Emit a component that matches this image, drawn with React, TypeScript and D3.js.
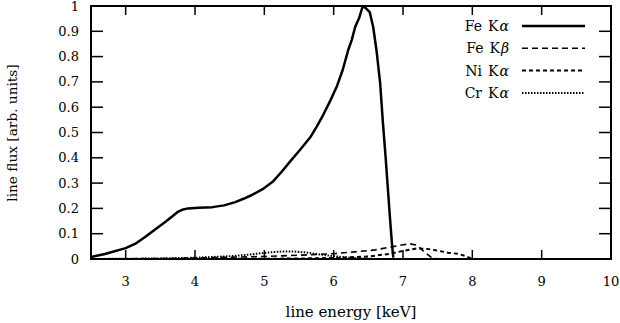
import React, { useRef, useEffect } from 'react';
import * as d3 from 'd3';

// energies (keV) and fluxes
const feKaE = [2.5, 2.7, 3.0, 3.15, 3.28, 3.42, 3.57, 3.67, 3.75, 3.83, 3.9, 4.05, 4.25, 4.42, 4.58, 4.7, 4.82, 4.97, 5.12, 5.25, 5.37, 5.51, 5.66, 5.76, 5.85, 5.95, 6.05, 6.13, 6.21, 6.26, 6.31, 6.37, 6.42, 6.47, 6.52, 6.57, 6.62, 6.67, 6.71, 6.75, 6.78, 6.81, 6.84, 6.86];
const feKaF = [0.008, 0.02, 0.043, 0.062, 0.087, 0.116, 0.146, 0.168, 0.186, 0.196, 0.2, 0.203, 0.205, 0.212, 0.225, 0.238, 0.253, 0.275, 0.305, 0.345, 0.385, 0.43, 0.48, 0.525, 0.57, 0.625, 0.685, 0.747, 0.826, 0.865, 0.917, 0.955, 1.0, 0.99, 0.976, 0.917, 0.82, 0.696, 0.54, 0.4, 0.285, 0.17, 0.063, 0.005];

const feKbE = [2.5, 3.0, 3.5, 4.0, 4.5, 5.0, 5.5, 6.0, 6.3, 6.6, 6.8, 7.0, 7.1, 7.2, 7.3, 7.4, 7.5];
const feKbF = [0.0, 0.001, 0.002, 0.004, 0.007, 0.01, 0.015, 0.021, 0.028, 0.036, 0.046, 0.056, 0.06, 0.055, 0.03, 0.008, 0.0];

const niKaE = [2.5, 4.0, 5.0, 5.5, 6.0, 6.5, 6.8, 7.0, 7.2, 7.35, 7.5, 7.65, 7.8, 7.9, 8.0];
const niKaF = [0.0, 0.0, 0.001, 0.002, 0.004, 0.01, 0.02, 0.032, 0.042, 0.04, 0.033, 0.025, 0.02, 0.012, 0.0];

const crKaE = [2.5, 3.0, 3.5, 4.0, 4.5, 4.8, 5.0, 5.2, 5.4, 5.6, 5.8, 6.0, 6.2, 6.4, 6.6];
const crKaF = [0.0, 0.001, 0.002, 0.005, 0.011, 0.018, 0.024, 0.029, 0.03, 0.026, 0.018, 0.011, 0.006, 0.002, 0.0];

const xTicks = [3, 4, 5, 6, 7, 8, 9, 10];
const yTicks = [0, 0.1, 0.2, 0.3, 0.4, 0.5, 0.6, 0.7, 0.8, 0.9, 1];

const series = [
  { el: 'Fe', line: 'K', greek: 'α', e: feKaE, f: feKaF, dash: null, width: 2.5 },
  { el: 'Fe', line: 'K', greek: 'β', e: feKbE, f: feKbF, dash: '6,4', width: 1.6 },
  { el: 'Ni', line: 'K', greek: 'α', e: niKaE, f: niKaF, dash: '4,3', width: 2 },
  { el: 'Cr', line: 'K', greek: 'α', e: crKaE, f: crKaF, dash: '1.5,1.5', width: 2 },
];

const FONT = '"DejaVu Serif", "Liberation Serif", serif';

export default function App() {
  const svgRef = useRef<SVGSVGElement>(null);

  useEffect(() => {
    const width = 620;
    const height = 323;
    const m = { left: 91, right: 611, top: 6, bottom: 259 };

    const svg = d3.select(svgRef.current)
      .attr('width', width)
      .attr('height', height)
      .style('font-family', FONT);
    svg.selectAll('*').remove();

    const x = d3.scaleLinear().domain([2.5, 10]).range([m.left, m.right]);
    const y = d3.scaleLinear().domain([0, 1]).range([m.bottom, m.top]);

    // tick marks, mirrored on all four sides
    xTicks.forEach(t => {
      svg.append('line').attr('x1', x(t)).attr('x2', x(t)).attr('y1', m.bottom).attr('y2', m.bottom - 9)
        .attr('stroke', '#000').attr('stroke-width', 1.5);
      svg.append('line').attr('x1', x(t)).attr('x2', x(t)).attr('y1', m.top).attr('y2', m.top + 9)
        .attr('stroke', '#000').attr('stroke-width', 1.5);
      svg.append('text').attr('x', x(t)).attr('y', 281).attr('dy', '0.35em')
        .attr('text-anchor', 'middle').style('font-size', '13px').text(t);
    });
    yTicks.forEach(t => {
      svg.append('line').attr('x1', m.left).attr('x2', m.left + 12).attr('y1', y(t)).attr('y2', y(t))
        .attr('stroke', '#000').attr('stroke-width', 1.5);
      svg.append('line').attr('x1', m.right).attr('x2', m.right - 12).attr('y1', y(t)).attr('y2', y(t))
        .attr('stroke', '#000').attr('stroke-width', 1.5);
      svg.append('text').attr('x', 79).attr('y', y(t)).attr('dy', '0.35em')
        .attr('text-anchor', 'end').style('font-size', '13px').text(t);
    });

    // data lines
    const line = d3.line<[number, number]>()
      .x(d => x(d[0]))
      .y(d => y(d[1]));

    series.forEach(s => {
      const pts = s.e.map((e, i) => [e, s.f[i]] as [number, number]);
      svg.append('path')
        .datum(pts)
        .attr('d', line)
        .attr('fill', 'none')
        .attr('stroke', '#000')
        .attr('stroke-width', s.width)
        .attr('stroke-dasharray', s.dash)
        .attr('stroke-linejoin', 'round');
    });

    // frame
    svg.append('rect')
      .attr('x', m.left).attr('y', m.top)
      .attr('width', m.right - m.left).attr('height', m.bottom - m.top)
      .attr('fill', 'none').attr('stroke', '#000').attr('stroke-width', 2);

    // legend
    series.forEach((s, i) => {
      const ly = 26 + i * 22.3;
      const t = svg.append('text').attr('x', 509).attr('y', ly).attr('dy', '0.35em')
        .attr('text-anchor', 'end').style('font-size', '14px');
      t.append('tspan').text(s.el);
      t.append('tspan').attr('dx', 6).text(s.line);
      t.append('tspan').attr('dx', 1).style('font-style', 'italic').text(s.greek);
      svg.append('line').attr('x1', 522).attr('x2', 585).attr('y1', ly).attr('y2', ly)
        .attr('stroke', '#000').attr('stroke-width', s.width)
        .attr('stroke-dasharray', s.dash);
    });

    // axis titles
    svg.append('text').attr('x', 351).attr('y', 312).attr('dy', '0.35em')
      .attr('text-anchor', 'middle').style('font-size', '15px').text('line energy [keV]');
    svg.append('text').attr('transform', `translate(12, 133) rotate(-90)`).attr('dy', '0.35em')
      .attr('text-anchor', 'middle').style('font-size', '13.7px').text('line flux [arb. units]');
  }, []);

  return (
    <div style={{ position: 'absolute', left: 0, top: 0 }}>
      <svg ref={svgRef}></svg>
    </div>
  );
}
